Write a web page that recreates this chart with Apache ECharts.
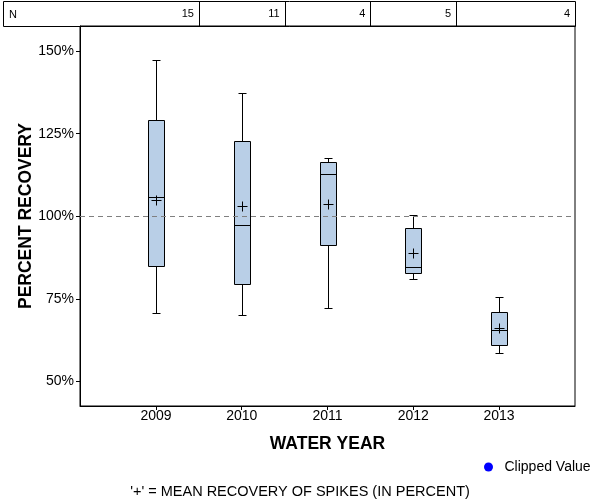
<!DOCTYPE html>
<html>
<head>
<meta charset="utf-8">
<script src="https://cdn.jsdelivr.net/npm/echarts@6/dist/echarts.min.js"></script>
<style>html,body{margin:0;padding:0;background:#fff}#c{width:600px;height:500px}</style>
</head>
<body>
<div id="c"></div>
<script>
// ---- data ----
var years = [2009, 2010, 2011, 2012, 2013];
var nCounts = [15, 11, 4, 5, 4];
var whiskerLow = [70.7, 70.1, 72.2, 81.0, 58.6];
var q1 = [85.0, 79.5, 91.3, 82.8, 61.2];
var median = [105.7, 97.3, 112.8, 84.6, 65.5];
var q3 = [129.2, 122.9, 116.4, 96.6, 71.1];
var whiskerHigh = [147.3, 137.2, 117.6, 100.5, 75.6];
var mean = [105.0, 103.0, 103.8, 89.0, 66.1];
var yTicks = [50, 75, 100, 125, 150];
var xTicks = years;
var referenceValue = 100;

var FONT = '"Liberation Sans", Arial, sans-serif';
var BOX_FILL = '#B9CFE7';

var boxData = years.map(function (y, i) {
  return [y, whiskerLow[i], q1[i], median[i], q3[i], whiskerHigh[i], mean[i]];
});
var nData = years.map(function (y, i) { return [y, nCounts[i]]; });

function px(v) { return Math.round(v) + 0.5; }

function renderBox(params, api) {
  var x = api.value(0);
  var pLow = api.coord([x, api.value(1)]);
  var pQ1 = api.coord([x, api.value(2)]);
  var pMed = api.coord([x, api.value(3)]);
  var pQ3 = api.coord([x, api.value(4)]);
  var pHigh = api.coord([x, api.value(5)]);
  var pMean = api.coord([x, api.value(6)]);
  var cx = px(pMed[0]);
  var hw = 8, cap = 4, ms = 5;
  var ls = { stroke: '#000', lineWidth: 1 };
  var top = px(pQ3[1]), bot = px(pQ1[1]);
  return {
    type: 'group',
    children: [
      { type: 'line', shape: { x1: cx, y1: px(pHigh[1]), x2: cx, y2: top }, style: ls },
      { type: 'line', shape: { x1: cx - cap, y1: px(pHigh[1]), x2: cx + cap, y2: px(pHigh[1]) }, style: ls },
      { type: 'line', shape: { x1: cx, y1: bot, x2: cx, y2: px(pLow[1]) }, style: ls },
      { type: 'line', shape: { x1: cx - cap, y1: px(pLow[1]), x2: cx + cap, y2: px(pLow[1]) }, style: ls },
      { type: 'rect', shape: { x: cx - hw, y: top, width: hw * 2, height: bot - top },
        style: { fill: BOX_FILL, stroke: '#000', lineWidth: 1 } },
      { type: 'line', shape: { x1: cx - hw, y1: px(pMed[1]), x2: cx + hw, y2: px(pMed[1]) }, style: ls },
      { type: 'line', shape: { x1: cx - ms, y1: px(pMean[1]), x2: cx + ms, y2: px(pMean[1]) }, style: ls },
      { type: 'line', shape: { x1: cx, y1: px(pMean[1]) - ms, x2: cx, y2: px(pMean[1]) + ms }, style: ls }
    ]
  };
}

function renderN(params, api) {
  var cs = params.coordSys;
  var x = api.value(0);
  var right = cs.x + cs.width;
  var isLast = params.dataIndex === years.length - 1;
  var divX = isLast ? right : api.coord([x + 0.5, 100])[0];
  var children = [
    { type: 'text', style: { text: String(api.value(1)), x: divX - 5, y: cs.y - 12,
      align: 'right', verticalAlign: 'middle', font: '11px ' + FONT, fill: '#000' } }
  ];
  if (!isLast) {
    children.push({ type: 'line', shape: { x1: px(divX), y1: cs.y - 24, x2: px(divX), y2: cs.y },
      style: { stroke: '#000', lineWidth: 1 } });
  }
  return { type: 'group', children: children };
}

var chart = echarts.init(document.getElementById('c'), null, { renderer: 'canvas' });
chart.setOption({
  animation: false,
  backgroundColor: '#fff',
  title: [{
    text: "'+' = MEAN RECOVERY OF SPIKES (IN PERCENT)",
    left: 'center', top: 479,
    textStyle: { fontFamily: FONT, fontSize: 14.5, fontWeight: 'normal', color: '#000' }
  }],
  legend: {
    left: 479, top: 455, icon: 'circle', itemWidth: 22, itemHeight: 9,
    data: ['Clipped Value'],
    textStyle: { fontFamily: FONT, fontSize: 14, color: '#000' }
  },
  grid: { left: 80, top: 26, right: 25, bottom: 94, show: true, borderColor: '#000', borderWidth: 1, backgroundColor: '#fff' },
  xAxis: {
    type: 'value', min: 2008.114, max: 2013.886,
    name: 'WATER YEAR', nameLocation: 'middle', nameGap: 29,
    nameTextStyle: { fontFamily: FONT, fontSize: 17.5, fontWeight: 'bold', color: '#000', verticalAlign: 'top' },
    axisLine: { show: true, lineStyle: { color: '#000', width: 1 } },
    axisTick: { show: true, length: 4, customValues: xTicks, lineStyle: { color: '#000' } },
    axisLabel: { customValues: xTicks, margin: 3, fontFamily: FONT, fontSize: 14, color: '#000',
      formatter: function (v) { return String(v); } },
    splitLine: { show: false }
  },
  yAxis: {
    type: 'value', min: 42.6, max: 157.6,
    name: 'PERCENT RECOVERY', nameLocation: 'middle', nameGap: 45, nameMoveOverlap: false,
    nameTextStyle: { fontFamily: FONT, fontSize: 17.5, fontWeight: 'bold', color: '#000' },
    axisLine: { show: true, lineStyle: { color: '#000', width: 1 } },
    axisTick: { show: true, length: 4, customValues: yTicks, lineStyle: { color: '#000' } },
    axisLabel: { customValues: yTicks, margin: 6, fontFamily: FONT, fontSize: 14, color: '#000',
      formatter: function (v) { return v + '%'; } },
    splitLine: { show: false }
  },
  graphic: [
    { type: 'rect', shape: { x: 3.5, y: 1.5, width: 572, height: 25 }, style: { fill: 'none', stroke: '#000', lineWidth: 1 }, z: 100 },
    { type: 'text', style: { text: 'N', x: 9, y: 14.5, verticalAlign: 'middle', font: '11px ' + FONT, fill: '#000' }, z: 100 }
  ],
  series: [
    {
      name: 'box', type: 'custom', renderItem: renderBox, data: boxData,
      encode: { x: 0, y: [1, 5] }, z: 3,
      markLine: {
        silent: true, symbol: ['none', 'none'], label: { show: false },
        lineStyle: { color: '#808080', type: [5, 4], width: 1 },
        data: [{ yAxis: referenceValue }]
      }
    },
    {
      name: 'N', type: 'custom', renderItem: renderN, data: nData, clip: false,
      encode: { x: 0 }, z: 5
    },
    {
      name: 'Clipped Value', type: 'scatter', data: [], itemStyle: { color: '#0000FF', opacity: 1 }
    }
  ]
});
</script>
</body>
</html>
